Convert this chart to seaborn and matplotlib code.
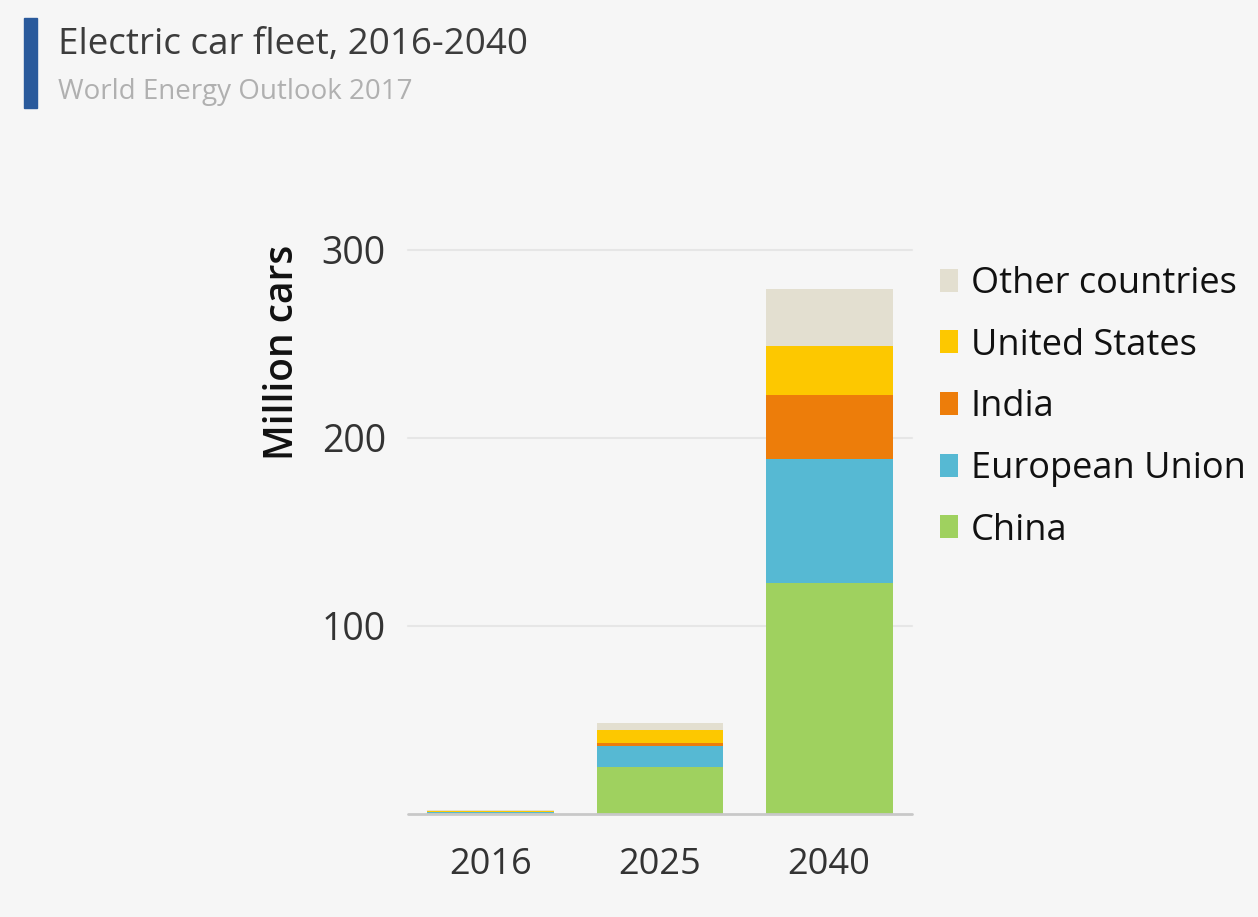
import matplotlib
matplotlib.use("Agg")
import matplotlib.pyplot as plt
import seaborn as sns
import numpy as np
from matplotlib.patches import Patch, Rectangle

years = ["2016", "2025", "2040"]
regions = ["China", "European Union", "India", "United States", "Other countries"]
china = [0.65, 25, 123]
eu = [0.6, 11, 66]
india = [0.01, 2, 34]
us = [0.56, 6.5, 26]
other = [0.2, 4, 30]
series = [china, eu, india, us, other]
colors = ["#9fd15f", "#56b9d3", "#ed7d0a", "#fdc800", "#e3dfd0"]
yticks = [100, 200, 300]

sns.set_theme(style="white")
plt.rcParams["font.family"] = ["Open Sans", "DejaVu Sans"]

BG = "#f6f6f6"
fig = plt.figure(figsize=(12.58, 9.17), dpi=100, facecolor=BG)
ax = fig.add_axes([408/1258, 1-814/917, (912-408)/1258, (814-250)/917])
ax.set_facecolor(BG)

bottom = np.zeros(len(years))
for vals, col in zip(series, colors):
    sns.barplot(x=years, y=vals, bottom=bottom, color=col, width=0.75,
                ax=ax, saturation=1, linewidth=0, zorder=3)
    bottom = bottom + np.array(vals)

ax.set_xlim(-0.49, 2.49)
ax.set_ylim(0, 300)
ax.set_yticks(yticks)
ax.set_yticklabels([str(t) for t in yticks])
for t in yticks:
    ax.axhline(t, color="#e6e6e6", lw=1.5, zorder=1, clip_on=False)
ax.axhline(0, color="#c8c8c8", lw=2, zorder=4, clip_on=False)
for s in ax.spines.values():
    s.set_visible(False)
ax.tick_params(axis="y", length=0, pad=16, labelsize=27, labelcolor="#333333")
ax.tick_params(axis="x", length=0, pad=24, labelsize=26, labelcolor="#333333")
ax.set_xlabel("")
ax.set_ylabel("")

fig.text(283/1258, 1-352/917, "Million cars", rotation=90, ha="center", va="center",
         fontsize=28, fontweight="semibold", color="#111111")

# legend
handles = [Patch(facecolor=c, edgecolor="none") for c in colors[::-1]]
labels = regions[::-1]
leg = fig.legend(handles, labels, loc="upper left", bbox_to_anchor=(940/1258, 1-266/917),
                 frameon=False, fontsize=26, handlelength=0.5, handleheight=0.6,
                 handletextpad=0.35, labelspacing=0.71, borderaxespad=0, borderpad=0)
for t in leg.get_texts():
    t.set_color("#111111")
    t.set_fontweight("medium")

# title
fig.patches.append(Rectangle((24/1258, 1-108/917), 13/1258, 90/917,
                             transform=fig.transFigure, color="#2a5a9c", zorder=5))
fig.text(58/1258, 1-45/917, "Electric car fleet, 2016-2040", fontsize=26.5,
         color="#3c3c3c", ha="left", va="center")
fig.text(58/1258, 1-92/917, "World Energy Outlook 2017", fontsize=20,
         color="#b0b0b0", ha="left", va="center")

fig.savefig("out.png", dpi=100, facecolor=BG)
